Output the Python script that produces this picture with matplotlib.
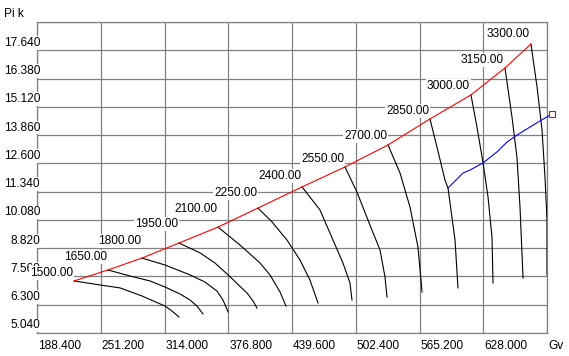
import matplotlib
matplotlib.use('Agg')
import matplotlib.pyplot as plt

plt.rcParams['font.family'] = ['Liberation Sans', 'DejaVu Sans']

# ---------------- data ----------------
x_ticks = [188.4, 251.2, 314.0, 376.8, 439.6, 502.4, 565.2, 628.0]
y_ticks = [5.04, 6.30, 7.56, 8.82, 10.08, 11.34, 12.60, 13.86, 15.12, 16.38, 17.64]
x_max = 690.8
y_max = 18.90

speeds = [1500, 1650, 1800, 1950, 2100, 2250, 2400, 2550, 2700, 2850, 3000, 3150, 3300]

line_1500_gv = [224.9, 250.5, 270.2, 291.8, 314.5, 321.4, 328.3]
line_1500_pik = [7.36, 7.18, 7.05, 6.69, 6.24, 6.02, 5.75]
line_1650_gv = [258.3, 280.0, 299.7, 314.5, 329.3, 339.1, 346.0, 351.9]
line_1650_pik = [7.85, 7.58, 7.36, 7.09, 6.78, 6.51, 6.24, 5.89]
line_1800_gv = [291.8, 314.5, 339.1, 353.9, 365.7, 371.6, 374.6, 376.6]
line_1800_pik = [8.38, 8.07, 7.63, 7.31, 6.91, 6.51, 6.20, 5.98]
line_1950_gv = [328.3, 349.0, 363.7, 376.6, 395.3, 401.2, 405.1]
line_1950_pik = [9.05, 8.61, 8.16, 7.63, 6.82, 6.47, 6.15]
line_2100_gv = [366.7, 388.4, 408.1, 417.9, 427.8, 433.7]
line_2100_pik = [9.76, 8.96, 8.16, 7.63, 6.87, 6.24]
line_2250_gv = [406.1, 419.9, 434.7, 447.5, 457.3, 465.2]
line_2250_pik = [10.61, 9.99, 9.18, 8.29, 7.40, 6.38]
line_2400_gv = [449.5, 467.2, 480.0, 489.8, 496.7, 498.7]
line_2400_pik = [11.55, 10.52, 9.18, 8.16, 7.27, 6.51]
line_2550_gv = [491.8, 503.6, 516.4, 526.3, 531.2, 533.2]
line_2550_pik = [12.44, 11.32, 9.85, 8.74, 7.54, 6.64]
line_2700_gv = [534.2, 546.0, 555.8, 563.7, 567.7]
line_2700_pik = [13.42, 12.17, 10.66, 8.87, 6.87]
line_2850_gv = [575.5, 582.4, 590.3, 593.3, 600.2, 603.1]
line_2850_pik = [14.58, 13.33, 11.86, 11.50, 9.18, 7.05]
line_3000_gv = [615.9, 621.8, 627.8, 632.7, 636.6, 637.6]
line_3000_pik = [15.65, 14.22, 12.62, 11.10, 9.32, 7.27]
line_3150_gv = [649.4, 656.3, 661.2, 664.2, 667.2]
line_3150_pik = [16.85, 14.67, 12.88, 10.66, 7.49]
line_3300_gv = [675.0, 681.0, 685.9, 688.8, 690.8, 690.8]
line_3300_pik = [17.92, 16.00, 14.09, 11.99, 10.08, 7.63]

work_gv = [593.3, 608.1, 614.9, 627.8, 641.5, 651.4, 661.2, 674.1, 683.9, 695.7]
work_pik = [11.50, 12.17, 12.30, 12.62, 13.11, 13.55, 13.86, 14.22, 14.49, 14.80]

speed_gv = [line_1500_gv, line_1650_gv, line_1800_gv, line_1950_gv, line_2100_gv,
            line_2250_gv, line_2400_gv, line_2550_gv, line_2700_gv, line_2850_gv,
            line_3000_gv, line_3150_gv, line_3300_gv]
speed_pik = [line_1500_pik, line_1650_pik, line_1800_pik, line_1950_pik, line_2100_pik,
             line_2250_pik, line_2400_pik, line_2550_pik, line_2700_pik, line_2850_pik,
             line_3000_pik, line_3150_pik, line_3300_pik]

# ---------------- layout / style ----------------
label_dy_px = [8, 13, 17, 19, 18, 15, 11, 8, 9, 8, 9, 8, 10]
PX = 0.72  # points per pixel at dpi 100
FS = 8.6
GRID = '#808080'

fig = plt.figure(figsize=(5.69, 3.56), dpi=100)
ax = fig.add_axes([37 / 569, 23 / 356, 510 / 569, 311 / 356])
ax.set_xlim(x_ticks[0], x_max)
ax.set_ylim(y_ticks[0], y_max)
ax.set_xticks(x_ticks + [x_max])
ax.set_yticks(y_ticks + [y_max])
ax.tick_params(length=0, labelbottom=False, labelleft=False)
ax.grid(True, color=GRID, linewidth=0.9, zorder=0)
ax.set_axisbelow(True)
for s in ax.spines.values():
    s.set_color(GRID)
    s.set_linewidth(0.9)

# speed lines
for gv, pik in zip(speed_gv, speed_pik):
    ax.plot(gv, pik, color='black', linewidth=0.8, zorder=3)

# surge line through start points
surge_gv = [g[0] for g in speed_gv]
surge_pik = [p[0] for p in speed_pik]
ax.plot(surge_gv, surge_pik, color='red', linewidth=0.8, zorder=4)

# working line
ax.plot(work_gv, work_pik, color='blue', linewidth=0.8, zorder=4, clip_on=False)
ax.plot(work_gv[-1:], work_pik[-1:], marker='s', markersize=4, markerfacecolor='white',
        markeredgecolor='red', markeredgewidth=0.8, linestyle='none', zorder=6, clip_on=False)

# speed labels
for n, gv, pik, dy in zip(speeds, speed_gv, speed_pik, label_dy_px):
    ax.annotate(f'{n:.2f}', xy=(gv[0], pik[0]), xytext=(-1 * PX, dy * PX),
                textcoords='offset points', ha='right', va='center', fontsize=FS,
                bbox=dict(facecolor='white', edgecolor='none', pad=0.6),
                zorder=8, annotation_clip=False)

# y tick labels
for y in y_ticks:
    ax.annotate(f'{y:.3f}', xy=(0, y), xycoords=('axes fraction', 'data'),
                xytext=(3 * PX, 7.5 * PX), textcoords='offset points',
                ha='right', va='center', fontsize=FS,
                bbox=dict(facecolor='white', edgecolor='none', pad=0.6),
                zorder=7, annotation_clip=False)

# x tick labels
for x in x_ticks:
    ax.annotate(f'{x:.3f}', xy=(x, 0), xycoords=('data', 'axes fraction'),
                xytext=(1 * PX, -13 * PX), textcoords='offset points',
                ha='left', va='center', fontsize=FS, annotation_clip=False)

ax.annotate('Gv', xy=(1, 0), xycoords='axes fraction', xytext=(1 * PX, -13 * PX),
            textcoords='offset points', ha='left', va='center', fontsize=FS,
            annotation_clip=False)
fig.text(4 / 569, 1 - 14 / 356, 'Pi k', ha='left', va='center', fontsize=FS)

fig.savefig('out.png', dpi=100)
